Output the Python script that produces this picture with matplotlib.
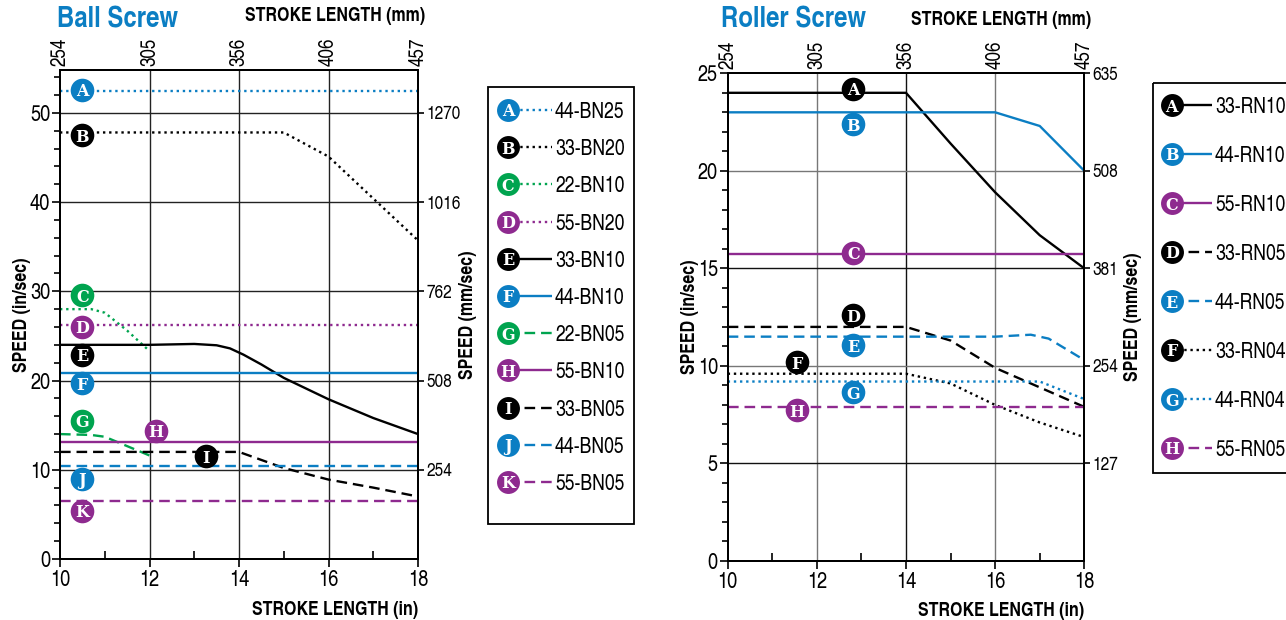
import matplotlib
matplotlib.use("Agg")
import matplotlib.pyplot as plt
from matplotlib.patches import Rectangle

plt.rcParams['font.family'] = ['TeX Gyre Heros Cn', 'DejaVu Sans']

BLUE = '#0b7ec3'
GREEN = '#00a44f'
PURPLE = '#8e2a8f'
BLACK = '#000000'

# ---------------- Ball screw data (stroke in, speed in/sec) ----------------
ball_codes = ['A', 'B', 'C', 'D', 'E', 'F', 'G', 'H', 'I', 'J', 'K']
ball_names = ['44-BN25', '33-BN20', '22-BN10', '55-BN20', '33-BN10', '44-BN10',
              '22-BN05', '55-BN10', '33-BN05', '44-BN05', '55-BN05']
ball_x = [
    [10, 18],
    [10, 15, 16, 17, 18],
    [10, 10.7, 11, 11.5, 12],
    [10, 18],
    [10, 12, 13, 13.5, 13.8, 14.1, 14.5, 15, 16, 17, 18],
    [10, 18],
    [10, 10.7, 11, 12],
    [10, 18],
    [10, 14, 15, 16, 17, 18],
    [10, 18],
    [10, 18],
]
ball_y = [
    [52.5, 52.5],
    [47.8, 47.8, 45.1, 40.4, 35.7],
    [28.0, 28.0, 27.6, 25.6, 23.3],
    [26.2, 26.2],
    [24.0, 24.0, 24.1, 23.95, 23.6, 22.9, 21.8, 20.3, 17.9, 15.8, 14.0],
    [20.9, 20.9],
    [14.0, 13.9, 13.7, 11.6],
    [13.1, 13.1],
    [12.0, 12.0, 10.2, 8.9, 8.0, 7.0],
    [10.45, 10.45],
    [6.55, 6.55],
]
ball_colors = [BLUE, BLACK, GREEN, PURPLE, BLACK, BLUE, GREEN, PURPLE, BLACK, BLUE, PURPLE]
ball_styles = ['dot', 'dot', 'dot', 'dot', '-', '-', 'dash', '-', 'dash', 'dash', 'dash']
ball_lab_x = [10.5, 10.5, 10.5, 10.5, 10.5, 10.5, 10.5, 12.15, 13.26, 10.5, 10.5]
ball_lab_y = [52.6, 47.5, 29.55, 26.0, 22.9, 19.7, 15.5, 14.4, 11.5, 9.0, 5.4]
ball_mm_ticks = [10, 20, 30, 40, 50]
ball_mm_labels = ['254', '508', '762', '1016', '1270']

# ---------------- Roller screw data ----------------
roll_codes = ['A', 'B', 'C', 'D', 'E', 'F', 'G', 'H']
roll_names = ['33-RN10', '44-RN10', '55-RN10', '33-RN05', '44-RN05', '33-RN04',
              '44-RN04', '55-RN05']
roll_x = [
    [10, 14, 15, 16, 17, 18],
    [10, 16, 17, 18],
    [10, 18],
    [10, 14, 15, 16, 17, 18],
    [10, 16, 16.8, 17.2, 18],
    [10, 14, 15, 16, 17, 18],
    [10, 17, 18],
    [10, 18],
]
roll_y = [
    [24.0, 24.0, 21.4, 18.9, 16.7, 15.0],
    [23.0, 23.0, 22.3, 20.0],
    [15.75, 15.75],
    [12.0, 12.0, 11.3, 9.9, 8.9, 7.9],
    [11.5, 11.5, 11.6, 11.4, 10.3],
    [9.6, 9.6, 9.1, 8.0, 7.1, 6.35],
    [9.2, 9.2, 8.3],
    [7.87, 7.87],
]
roll_colors = [BLACK, BLUE, PURPLE, BLACK, BLUE, BLACK, BLUE, PURPLE]
roll_styles = ['-', '-', '-', 'dash', 'dash', 'dot', 'dot', 'dash']
roll_lab_x = [12.82, 12.82, 12.82, 12.82, 12.82, 11.55, 12.82, 11.55]
roll_lab_y = [24.2, 22.4, 15.8, 12.6, 11.07, 10.18, 8.64, 7.74]
roll_mm_ticks = [5, 10, 15, 20, 25]
roll_mm_labels = ['127', '254', '381', '508', '635']

stroke_in = [10, 12, 14, 16, 18]
stroke_mm = ['254', '305', '356', '406', '457']

LS = {'-': '-', 'dot': (0, (1, 1.6)), 'dash': (0, (4.5, 2.5))}


def badge(ax, x, y, letter, color, transform=None, size=17):
    kw = {} if transform is None else {'transform': transform}
    ax.plot([x], [y], 'o', ms=size, color=color, mec='white', mew=0, zorder=10,
            clip_on=False, **kw)
    ax.text(x, y, letter, color='white', fontsize=11.5, fontweight='bold',
            family='DejaVu Serif', ha='center', va='center_baseline', zorder=11, **kw)


def draw_panel(ax, xs, ys, colors, styles, codes, lab_x, lab_y, ymax, ymajor, yminor,
               mm_ticks, mm_labels, grid_colors, rpad):
    ax.set_xlim(10, 18)
    ax.set_ylim(0, ymax)
    for i in range(len(xs)):
        ax.plot(xs[i], ys[i], color=colors[i], ls=LS[styles[i]], lw=1.7,
                solid_capstyle='butt', zorder=5)
    for i in range(len(codes)):
        badge(ax, lab_x[i], lab_y[i], codes[i], colors[i])
    # grid
    for v, c in zip([12, 14, 16], grid_colors[0]):
        ax.axvline(v, color=c, lw=1.0, zorder=1)
    for v, c in zip(mm_ticks, grid_colors[1]):
        if v < ymax:
            ax.axhline(v, color=c, lw=1.0, zorder=1)
    ax.set_xticks(stroke_in)
    ax.set_xticks([11, 13, 15, 17], minor=True)
    ax.set_yticks(range(0, int(ymax) + 1, ymajor))
    ax.set_yticks([v for v in range(0, int(ymax) + 1, yminor) if v % ymajor], minor=True)
    ax.tick_params(axis='x', which='major', direction='out', length=6, width=1.2,
                   labelsize=16, pad=2)
    ax.tick_params(axis='x', which='minor', direction='in', length=6, width=1.2)
    ax.tick_params(axis='y', which='major', direction='out', length=6, width=1.2,
                   labelsize=16, pad=1)
    ax.tick_params(axis='y', which='minor', direction='out', length=4, width=1.2)
    for s in ax.spines.values():
        s.set_linewidth(1.3)
    ax.set_ylabel('SPEED (in/sec)', fontsize=14, fontweight='bold', labelpad=-1)
    ax.set_xlabel('STROKE LENGTH (in)', fontsize=14, fontweight='bold')
    ax.xaxis.set_label_coords(1.0, -0.085)
    ax.xaxis.label.set_ha('right')

    top = ax.twiny()
    top.set_xlim(10, 18)
    top.set_xticks(stroke_in)
    top.set_xticklabels(stroke_mm, rotation=90, fontsize=15)
    top.tick_params(axis='x', length=0, pad=3)
    top.set_xlabel('STROKE LENGTH (mm)', fontsize=14, fontweight='bold')
    top.xaxis.set_label_coords(1.02, 1.1)
    top.xaxis.label.set_ha('right')

    right = ax.twinx()
    right.set_ylim(0, ymax)
    right.set_yticks(mm_ticks)
    right.set_yticklabels(mm_labels, fontsize=13.5)
    right.tick_params(axis='y', length=4, width=1.2, pad=2)
    right.set_ylabel('SPEED (mm/sec)', fontsize=14, fontweight='bold', labelpad=rpad)
    for s in list(top.spines.values()) + list(right.spines.values()):
        s.set_linewidth(1.3)
    return right


def draw_legend(ov, x0, y0, dy, codes, names, colors, styles, box, lw_x):
    bx, by, bw, bh = box
    ov.add_patch(Rectangle((bx, by), bw, bh, fill=False, ec='black', lw=1.3,
                           clip_on=False))
    for i in range(len(codes)):
        y = y0 + i * dy
        ov.plot([x0, lw_x], [y, y], color=colors[i], ls=LS[styles[i]], lw=1.7,
                solid_capstyle='butt')
        badge(ov, x0, y, codes[i], colors[i], size=16.5)
        ov.text(lw_x + 3, y, names[i], fontsize=15.5, ha='left', va='center_baseline')


fig = plt.figure(figsize=(12.86, 6.2), dpi=100)
W, H = 1286, 620

ax1 = fig.add_axes([60 / W, 1 - 559 / H, 358 / W, 489 / H])
draw_panel(ax1, ball_x, ball_y, ball_colors, ball_styles, ball_codes, ball_lab_x, ball_lab_y,
           54.8, 10, 2, ball_mm_ticks, ball_mm_labels,
           (['#222'] * 3, ['#222'] * 5), -1)

ax2 = fig.add_axes([727.7 / W, 1 - 561 / H, 356.6 / W, 487.7 / H])
draw_panel(ax2, roll_x, roll_y, roll_colors, roll_styles, roll_codes, roll_lab_x, roll_lab_y,
           25, 5, 1, roll_mm_ticks, roll_mm_labels,
           (['#777', '#111', '#777'], ['#111', '#777', '#111', '#777', '#111']), 4)

fig.text(57 / W, 1 - 20 / H, 'Ball Screw', color=BLUE, fontsize=21, fontweight='bold',
         ha='left', va='center')
fig.text(721 / W, 1 - 20 / H, 'Roller Screw', color=BLUE, fontsize=21, fontweight='bold',
         ha='left', va='center')

ov = fig.add_axes([0, 0, 1, 1])
ov.set_xlim(0, W)
ov.set_ylim(H, 0)
ov.axis('off')
draw_legend(ov, 508, 110, 37.2, ball_codes, ball_names, ball_colors, ball_styles,
            (487.5, 86.5, 146, 437), 552)
draw_legend(ov, 1171.7, 105, 49.0, roll_codes, roll_names, roll_colors, roll_styles,
            (1153, 82.7, 160, 390), 1212)

fig.savefig('out.png', dpi=100)
